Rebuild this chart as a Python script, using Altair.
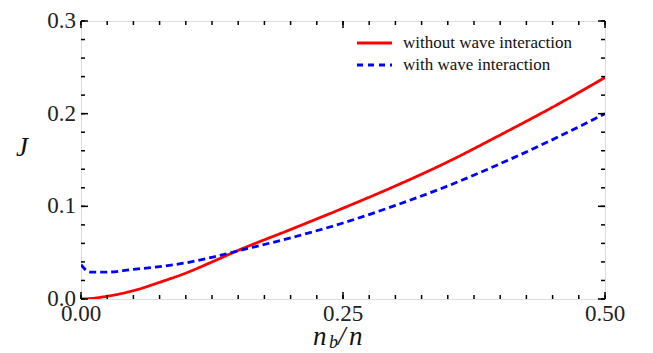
import altair as alt
import pandas as pd

# ---- data ----
x_vals = [0.0, 0.005, 0.01, 0.025, 0.05, 0.075, 0.1, 0.125, 0.15, 0.2, 0.25, 0.3, 0.35, 0.4, 0.45, 0.5]
j_without = [0.0, 0.0002, 0.0006, 0.003, 0.009, 0.018, 0.028, 0.040, 0.0525, 0.075, 0.098, 0.122, 0.148, 0.177, 0.207, 0.239]
j_with = [0.037, 0.031, 0.029, 0.029, 0.032, 0.035, 0.039, 0.045, 0.052, 0.066, 0.082, 0.101, 0.122, 0.146, 0.172, 0.2]
series_names = ["without wave interaction", "with wave interaction"]
series_colors = ["#ff0000", "#0000ff"]

x_major = [0.0, 0.25, 0.5]
x_labels = ["0.00", "0.25", "0.50"]
x_minor = [i * 0.025 for i in range(21)]
y_major = [0.0, 0.1, 0.2, 0.3]
y_labels = ["0.0", "0.1", "0.2", "0.3"]
y_minor = [i * 0.02 for i in range(16)]

W, H = 524, 278
SERIF = "Liberation Serif"

rows = []
for xv, a, b in zip(x_vals, j_without, j_with):
    rows.append({"x": xv, "J": a, "s": series_names[0]})
    rows.append({"x": xv, "J": b, "s": series_names[1]})
df = pd.DataFrame(rows)

xscale = alt.Scale(domain=[0, 0.5], nice=False, zero=False)
yscale = alt.Scale(domain=[0, 0.3], nice=False, zero=False)
xaxis = None
yaxis = None

lines = alt.Chart(df).mark_line(strokeWidth=2.8, clip=True, interpolate="monotone").encode(
    x=alt.X("x:Q", scale=xscale, axis=xaxis),
    y=alt.Y("J:Q", scale=yscale, axis=yaxis),
    color=alt.Color("s:N", scale=alt.Scale(domain=series_names, range=series_colors), legend=None),
    strokeDash=alt.StrokeDash("s:N", scale=alt.Scale(domain=series_names, range=[[1, 0], [7, 4]]), legend=None),
)

def xticks(vals, y0, y1):
    return alt.Chart(pd.DataFrame({"x": vals})).mark_rule(color="black", strokeWidth=1.5).encode(
        x=alt.X("x:Q", scale=xscale, axis=xaxis), y=alt.value(y0), y2=alt.value(y1))

def yticks(vals, x0, x1):
    return alt.Chart(pd.DataFrame({"J": vals})).mark_rule(color="black", strokeWidth=1.5).encode(
        y=alt.Y("J:Q", scale=yscale, axis=yaxis), x=alt.value(x0), x2=alt.value(x1))

ticks = [
    xticks(x_minor, H, H - 4), xticks(x_major, H, H - 7),
    xticks(x_minor, 0, 4), xticks(x_major, 0, 7),
    yticks(y_minor, 0, 4), yticks(y_major, 0, 7),
    yticks(y_minor, W, W - 4), yticks(y_major, W, W - 7),
]

xlab = alt.Chart(pd.DataFrame({"x": x_major, "t": x_labels})).mark_text(
    font=SERIF, fontSize=23, baseline="middle", align="center", color="#222").encode(
    x=alt.X("x:Q", scale=xscale, axis=xaxis), y=alt.value(H + 15), text="t:N")
ylab = alt.Chart(pd.DataFrame({"J": y_major, "t": y_labels})).mark_text(
    font=SERIF, fontSize=23, baseline="middle", align="right", color="#222").encode(
    y=alt.Y("J:Q", scale=yscale, axis=yaxis), x=alt.value(-5), text="t:N")

one = pd.DataFrame({"a": [0]})

leg_red = alt.Chart(one).mark_rule(color=series_colors[0], strokeWidth=3.2).encode(
    x=alt.value(276), x2=alt.value(311), y=alt.value(22))
leg_blue = alt.Chart(one).mark_rule(color=series_colors[1], strokeWidth=3.2, strokeDash=[6, 5]).encode(
    x=alt.value(276), x2=alt.value(311), y=alt.value(44))
leg_t1 = alt.Chart(one).mark_text(text=series_names[0], font=SERIF, fontSize=17, align="left",
                                  baseline="middle", color="#111").encode(x=alt.value(322), y=alt.value(22))
leg_t2 = alt.Chart(one).mark_text(text=series_names[1], font=SERIF, fontSize=17, align="left",
                                  baseline="middle", color="#111").encode(x=alt.value(322), y=alt.value(44))

def label(txt, x, y, size, align="left", baseline="alphabetic"):
    return alt.Chart(one).mark_text(text=txt, font=SERIF, fontSize=size, fontStyle="italic",
                                    align=align, baseline=baseline, color="#111").encode(
        x=alt.value(x), y=alt.value(y))

xl = [label("n", 232, 324, 27), label("b", 248, 327, 18), label("/", 257, 324, 27), label("n", 268, 324, 27)]
yl = [label("J", -59, 127, 27, align="center", baseline="middle")]

chart = alt.layer(lines, *ticks, xlab, ylab, leg_red, leg_blue, leg_t1, leg_t2, *xl, *yl).properties(
    width=W, height=H,
    autosize=alt.AutoSizeParams(type="none"),
    padding={"left": 73, "top": 13, "right": 40, "bottom": 53},
).configure_view(stroke="black", strokeWidth=2).configure(background="white", font=SERIF)

chart.save("out.html", embed_options={"renderer": "svg", "actions": False})
